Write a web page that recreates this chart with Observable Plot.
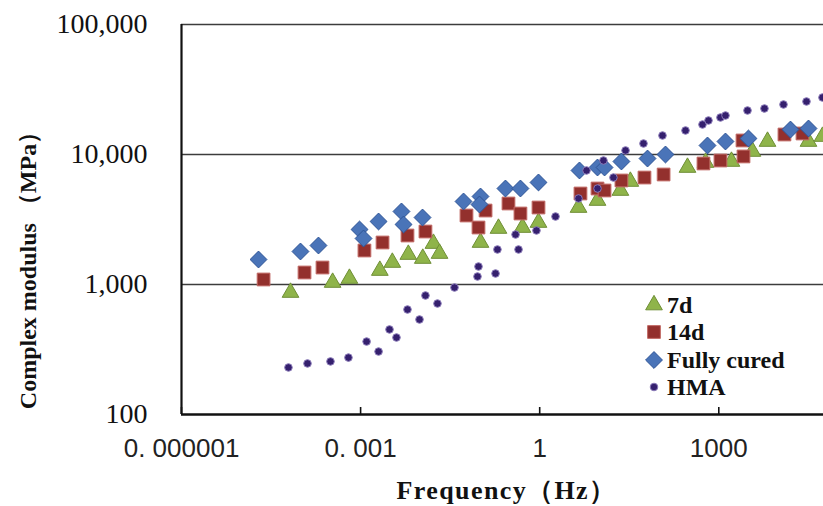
<!DOCTYPE html>
<html>
<head>
<meta charset="utf-8">
<script src="https://cdn.jsdelivr.net/npm/d3@7"></script>
<script src="https://cdn.jsdelivr.net/npm/@observablehq/plot@0.6"></script>
<style>
  html, body { margin: 0; padding: 0; background: #fff; }
  #chart { width: 823px; height: 506px; overflow: hidden; }
</style>
</head>
<body>
<div id="chart"></div>
<script>
// ---- Data ----
const seriesNames = ["7d", "14d", "Fully cured", "HMA"];

const freq7d = [6.7e-5, 3.4e-4, 6.5e-4, 2.1e-3, 3.4e-3, 6.3e-3, 0.011, 0.0166, 0.021, 0.102,
  0.204, 0.515, 0.955, 4.47, 9.3, 22.5, 33, 299, 600, 1630, 3660, 6550, 31800, 54600];
const mod7d = [868, 1036, 1112, 1281, 1477, 1701, 1585, 2066, 1731, 2104,
  2697, 2744, 2999, 3910, 4428, 5286, 6200, 7943, 8676, 8836, 10550, 12590, 12590, 13750];

const freq14d = [2.37e-5, 1.15e-4, 2.3e-4, 1.16e-3, 2.33e-3, 6.1e-3, 0.0122, 0.0594, 0.0944, 0.124,
  0.30, 0.476, 0.955, 4.82, 9.3, 12.2, 23.4, 56.9, 119, 554, 1067, 2594, 2495, 12590, 25230];
const mod14d = [1093, 1237, 1351, 1826, 2104, 2382, 2556, 3394, 2744, 3707,
  4198, 3517, 3910, 5012, 5475, 5286, 6310, 6650, 7017, 8530, 8990, 9660, 12820, 14250, 14510];

const freqCured = [1.95e-5, 9.84e-5, 1.97e-4, 9.6e-4, 1.12e-3, 2.0e-3, 4.84e-3, 5.24e-3, 0.0109, 0.053,
  0.102, 0.098, 0.267, 0.476, 0.955, 4.64, 9.3, 12.2, 23.4, 64, 128, 647, 1294, 3141, 15880, 31840];
const modCured = [1557, 1794, 1995, 2649, 2259, 3053, 3645, 2895, 3276, 4350,
  4753, 4125, 5475, 5475, 6095, 7536, 7943, 7943, 8836, 9313, 10000, 11730, 12590, 13280, 15560, 15850];

const freqHMA = [6.19e-5, 1.29e-4, 3.13e-4, 6.26e-4, 1.26e-3, 2.0e-3, 3.05e-3, 3.99e-3, 6.1e-3, 9.7e-3,
  0.0122, 0.0194, 0.0374, 0.0908, 0.0944, 0.182, 0.196, 0.394, 0.442, 0.883,
  1.84, 4.47, 6.08, 9.3, 11.7, 17.2, 27.4, 54.8, 114, 277,
  533, 672, 1067, 1294, 3027, 5821, 12130, 29440, 54580];
const modHMA = [230, 247, 256, 274, 364, 305, 451, 391, 642, 538,
  823, 714, 948, 1152, 1375, 1215, 1859, 2424, 1859, 2603,
  3334, 4590, 7536, 5475, 8990, 6650, 10740, 12150, 14000, 15300,
  17010, 18260, 19260, 19950, 21800, 22590, 24250, 25570, 27440];

const xTicks = [1e-6, 1e-3, 1, 1000];
const xTickLabels = ["0. 000001", "0. 001", "1", "1000"];
const yTicks = [100, 1000, 10000, 100000];
const yGrid = [1000, 10000, 100000];
const xTitle = "Frequency（Hz）";
const yTitle = "Complex modulus （MPa）";

// ---- Styles ----
const styles = {
  "7d": {symbol: d3.symbolTriangle, r: 6.2, fill: "#8fb44a", stroke: "#6f8f36"},
  "14d": {symbol: d3.symbolSquare, r: 7.2, fill: "#93302d", stroke: "#c26a66"},
  "Fully cured": {symbol: d3.symbolDiamond2, r: 7.6, fill: "#4a74b8", stroke: "#2f5597"},
  "HMA": {symbol: d3.symbolCircle, r: 3.8, fill: "#35206e", stroke: "#8a7ab8"}
};

const toRows = (fs, ms) => fs.map((f, i) => ({f, m: ms[i]}));
const seriesData = {
  "7d": toRows(freq7d, mod7d),
  "14d": toRows(freq14d, mod14d),
  "Fully cured": toRows(freqCured, modCured),
  "HMA": toRows(freqHMA, modHMA)
};

const labelFor = new Map(xTicks.map((t, i) => [t, xTickLabels[i]]));

const dotMarks = seriesNames.map(name => {
  const s = styles[name];
  return Plot.dot(seriesData[name], {
    x: "f", y: "m", symbol: () => s.symbol, r: s.r,
    fill: s.fill, stroke: s.stroke, strokeWidth: 1
  });
});

const chart = Plot.plot({
  width: 823,
  height: 506,
  marginLeft: 181,
  marginRight: 0,
  marginTop: 24,
  marginBottom: 92,
  x: {type: "log", domain: [1e-6, 56750]},
  y: {type: "log", domain: [100, 100000]},
  symbol: {type: "identity"},
  style: {background: "#fff", color: "#111", overflow: "hidden"},
  marks: [
    Plot.ruleY(yGrid, {stroke: "#3c3c3c", strokeWidth: 1.6}),
    Plot.ruleY([100], {stroke: "#111", strokeWidth: 2.6}),
    Plot.ruleX([1e-6], {stroke: "#111", strokeWidth: 2.2}),
    Plot.tickX(xTicks, {insetTop: 383, stroke: "#111", strokeWidth: 1.6}),
    Plot.axisY({ticks: yTicks, tickFormat: d3.format(","), tickSize: 0, tickPadding: 34,
      fontSize: 28, fontFamily: "Liberation Serif", label: null}),
    Plot.axisX({ticks: xTicks, tickFormat: d => labelFor.get(d), tickSize: 0, tickPadding: 24,
      fontSize: 26, fontFamily: "Liberation Sans", fill: "#222", label: null}),
    ...dotMarks,
    Plot.text([xTitle], {frameAnchor: "bottom", textAnchor: "middle", lineAnchor: "middle",
      dy: 76, dx: 4, fontSize: 26, fontWeight: "bold",
      fontFamily: "Liberation Serif", fill: "#111"}),
    Plot.text([yTitle], {frameAnchor: "left", textAnchor: "middle", lineAnchor: "middle",
      dx: -153, dy: 45, rotate: -90, fontSize: 24,
      fontWeight: "bold", fontFamily: "Liberation Serif", fill: "#111"})
  ]
});

// letter spacing for the x title to match the wide lettering of the original
d3.select(chart).selectAll("text").filter(function() { return this.textContent === xTitle; })
  .attr("letter-spacing", "1.4px");

// ---- Legend (inside plot area) ----
const svg = d3.select(chart);
const legend = svg.append("g").attr("transform", "translate(654,305)");
seriesNames.forEach((name, i) => {
  const s = styles[name];
  const rowY = [0, 27, 55, 82][i];
  legend.append("path")
    .attr("d", d3.symbol(s.symbol, Math.PI * s.r * s.r)())
    .attr("transform", `translate(0,${rowY})`)
    .attr("fill", s.fill).attr("stroke", s.stroke).attr("stroke-width", 1);
  legend.append("text")
    .attr("x", 13).attr("y", rowY)
    .attr("dy", "0.35em")
    .attr("text-anchor", "start")
    .attr("font-family", "Liberation Serif")
    .attr("font-weight", "bold")
    .attr("font-size", 24)
    .attr("fill", "#111")
    .text(name);
});

document.getElementById("chart").appendChild(chart);
</script>
</body>
</html>
